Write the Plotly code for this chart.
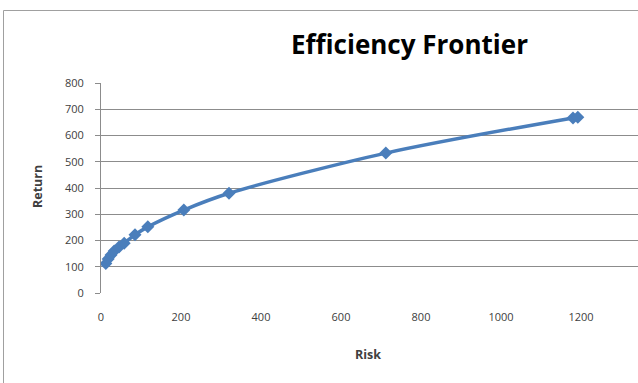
import plotly.graph_objects as go

risk = [12, 18, 25, 33, 45, 58, 85, 117, 207, 320, 712, 1180, 1192]
ret = [112, 130, 145, 160, 175, 190, 222, 252, 316, 380, 533, 667, 670]

x_ticks = [0, 200, 400, 600, 800, 1000, 1200]
y_ticks = [0, 100, 200, 300, 400, 500, 600, 700, 800]

W, H = 638, 383
L, T, B = 101, 83, 90
plot_w = W - L
px_per_unit = 80 / 200
x_max = plot_w / px_per_unit

fig = go.Figure()
fig.add_trace(go.Scatter(
    x=risk, y=ret, mode="lines+markers",
    line=dict(color="#4A7EBB", width=3.5, shape="spline", smoothing=0.8),
    marker=dict(symbol="diamond", size=10, color="#4A7EBB"),
    showlegend=False,
))

def px_x(p):
    return (p - L) / plot_w

def px_y(p):
    return (H - B - p) / (H - B - T)

fig.update_layout(
    width=W, height=H,
    margin=dict(l=L, r=0, t=T, b=B),
    paper_bgcolor="white", plot_bgcolor="white",
    font=dict(family="Open Sans, DejaVu Sans, sans-serif", color="#404040"),
    xaxis=dict(range=[0, x_max], tickvals=x_ticks, showgrid=False,
               zeroline=False, showline=False, ticks="",
               ticklabelstandoff=16, tickfont=dict(size=11, color="#404040")),
    yaxis=dict(range=[0, 800], tickvals=y_ticks, showgrid=True,
               gridcolor="#8C8C8C", gridwidth=1, zeroline=False,
               showline=True, linecolor="#8C8C8C", linewidth=1,
               ticks="outside", ticklen=5, tickcolor="#8C8C8C",
               ticklabelstandoff=9, tickfont=dict(size=11, color="#404040")),
    shapes=[dict(type="rect", xref="paper", yref="paper",
                 x0=px_x(3.5), x1=px_x(700), y0=px_y(450), y1=px_y(10.5),
                 line=dict(color="#A0A0A0", width=1), layer="below")],
    annotations=[
        dict(text="<b>Efficiency Frontier</b>", xref="paper", yref="paper",
             x=px_x(409), y=px_y(44), showarrow=False,
             font=dict(size=26, color="#000000", family="Open Sans, sans-serif"),
             xanchor="center", yanchor="middle"),
        dict(text="<b>Return</b>", xref="paper", yref="paper",
             x=px_x(37), y=px_y(187), showarrow=False, textangle=-90,
             font=dict(size=12.5, color="#404040"), xanchor="center", yanchor="middle"),
        dict(text="<b>Risk</b>", xref="paper", yref="paper",
             x=px_x(368), y=px_y(354), showarrow=False,
             font=dict(size=12.5, color="#404040"), xanchor="center", yanchor="middle"),
    ],
)

fig.write_html("out.html", config={"displayModeBar": False},
               post_script="document.body.style.margin='0';")
